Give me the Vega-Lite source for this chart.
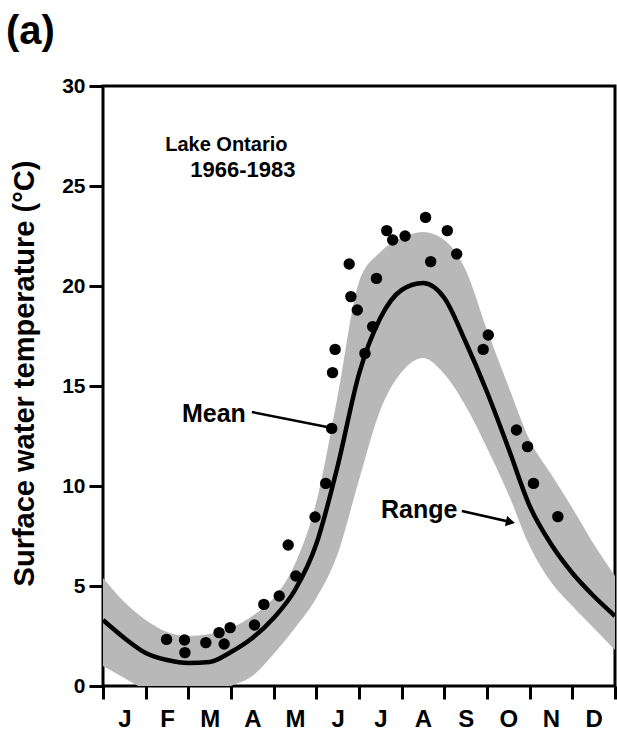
{
  "$schema": "https://vega.github.io/schema/vega-lite/v6.json",
  "width": 512,
  "height": 600,
  "autosize": {"type": "none"},
  "padding": {"left": 103, "top": 86, "right": 2, "bottom": 46},
  "background": "white",
  "title": {"text": "(a)", "anchor": "start", "frame": "group", "fontSize": 40, "fontWeight": "bold", "font": "Liberation Sans", "color": "black", "dx": -97, "offset": 36, "dy": 45, "baseline": "alphabetic"},
  "config": {
    "view": {"stroke": "black", "strokeWidth": 3},
    "font": "Liberation Sans",
    "axis": {"grid": false, "domain": false, "tickColor": "black", "tickWidth": 3, "labelColor": "black", "titleColor": "black", "labelFont": "Liberation Sans", "titleFont": "Liberation Sans", "labelFontWeight": "bold"}
  },
  "datasets": {
    "band": [
      {"m": 0, "lo": 1.0, "mean": 3.3, "hi": 5.4},
      {"m": 0.5, "lo": 0.4, "mean": 2.4, "hi": 4.2},
      {"m": 1, "lo": -0.2, "mean": 1.65, "hi": 3.3},
      {"m": 1.5, "lo": -0.6, "mean": 1.3, "hi": 2.7},
      {"m": 2, "lo": -0.7, "mean": 1.15, "hi": 2.5},
      {"m": 2.5, "lo": -0.5, "mean": 1.2, "hi": 2.6},
      {"m": 3, "lo": 0.0, "mean": 1.7, "hi": 2.9},
      {"m": 3.5, "lo": 0.5, "mean": 2.4, "hi": 3.5},
      {"m": 4, "lo": 1.6, "mean": 3.4, "hi": 4.4},
      {"m": 4.5, "lo": 2.9, "mean": 4.8, "hi": 6.1},
      {"m": 5, "lo": 4.4, "mean": 7.1, "hi": 9.2},
      {"m": 5.5, "lo": 6.6, "mean": 11.0, "hi": 14.5},
      {"m": 6, "lo": 10.3, "mean": 15.6, "hi": 20.2},
      {"m": 6.5, "lo": 13.8, "mean": 18.4, "hi": 21.7},
      {"m": 7, "lo": 15.7, "mean": 19.8, "hi": 22.4},
      {"m": 7.5, "lo": 16.4, "mean": 20.15, "hi": 22.7},
      {"m": 8, "lo": 15.6, "mean": 19.4, "hi": 22.3},
      {"m": 8.5, "lo": 14.0, "mean": 17.2, "hi": 20.8},
      {"m": 9, "lo": 11.9, "mean": 14.7, "hi": 17.8},
      {"m": 9.5, "lo": 9.6, "mean": 11.9, "hi": 15.0},
      {"m": 10, "lo": 7.0, "mean": 9.0, "hi": 12.3},
      {"m": 10.5, "lo": 5.2, "mean": 7.1, "hi": 10.6},
      {"m": 11, "lo": 4.0, "mean": 5.65, "hi": 8.9},
      {"m": 11.5, "lo": 2.9, "mean": 4.5, "hi": 7.1},
      {"m": 12, "lo": 1.8, "mean": 3.5, "hi": 5.5}
    ],
    "obs": [
      {"m": 1.49, "t": 2.33}, {"m": 1.91, "t": 2.3}, {"m": 1.92, "t": 1.67}, {"m": 2.41, "t": 2.17},
      {"m": 2.72, "t": 2.67}, {"m": 2.84, "t": 2.1}, {"m": 2.98, "t": 2.92}, {"m": 3.55, "t": 3.05},
      {"m": 3.77, "t": 4.08}, {"m": 4.13, "t": 4.5}, {"m": 4.34, "t": 7.05}, {"m": 4.52, "t": 5.5},
      {"m": 4.97, "t": 8.45}, {"m": 5.22, "t": 10.13}, {"m": 5.36, "t": 12.88}, {"m": 5.38, "t": 15.67},
      {"m": 5.44, "t": 16.83}, {"m": 5.77, "t": 21.1}, {"m": 5.81, "t": 19.47}, {"m": 5.96, "t": 18.8},
      {"m": 6.14, "t": 16.63}, {"m": 6.32, "t": 17.97}, {"m": 6.41, "t": 20.38}, {"m": 6.65, "t": 22.77},
      {"m": 6.79, "t": 22.3}, {"m": 7.08, "t": 22.5}, {"m": 7.56, "t": 23.43}, {"m": 7.68, "t": 21.22},
      {"m": 8.07, "t": 22.77}, {"m": 8.29, "t": 21.6}, {"m": 8.91, "t": 16.83}, {"m": 9.03, "t": 17.55},
      {"m": 9.69, "t": 12.8}, {"m": 9.95, "t": 11.97}, {"m": 10.09, "t": 10.13}, {"m": 10.66, "t": 8.47}
    ],
    "arrows": [
      {"name": "Mean", "m": 3.49, "t": 13.7, "m2": 5.37, "t2": 12.9},
      {"name": "Range", "m": 8.41, "t": 8.75, "m2": 9.55, "t2": 8.2}
    ],
    "heads": [{"m": 9.55, "t": 8.2}],
    "place": [
      {"label": "Lake Ontario", "m": 2.89, "t": 26.75}
    ],
    "years": [
      {"label": "1966-1983", "m": 3.28, "t": 25.45}
    ],
    "names": [
      {"label": "Mean", "m": 2.6, "t": 13.2},
      {"label": "Range", "m": 7.41, "t": 8.4}
    ]
  },
  "resolve": {"axis": {"x": "independent", "y": "independent"}},
  "layer": [
    {
      "data": {"name": "band"},
      "mark": {"type": "area", "interpolate": "monotone", "clip": true, "color": "#b8b8b8"},
      "encoding": {
        "x": {"field": "m", "type": "quantitative", "scale": {"domain": [0, 12], "nice": false, "zero": false},
          "axis": {"orient": "bottom", "values": [0,1,2,3,4,5,6,7,8,9,10,11,12], "labels": false, "tickSize": 13, "title": null}},
        "y": {"field": "lo", "type": "quantitative", "scale": {"domain": [0, 30], "nice": false},
          "axis": {"orient": "left", "values": [0,5,10,15,20,25,30], "tickSize": 14, "labelPadding": 4, "labelFontSize": 21,
            "title": "Surface water temperature (°C)", "titleFontSize": 29, "titleFontWeight": "bold", "titleAngle": -90,
            "titleX": -70, "titleY": 287, "titleAlign": "center", "titleBaseline": "alphabetic"}},
        "y2": {"field": "hi"}
      }
    },
    {
      "data": {"name": "band"},
      "mark": {"type": "line", "interpolate": "monotone", "clip": true, "color": "black", "strokeWidth": 4.5},
      "encoding": {
        "x": {"field": "m", "type": "quantitative",
          "axis": {"orient": "bottom", "values": [0.5,1.5,2.5,3.5,4.5,5.5,6.5,7.5,8.5,9.5,10.5,11.5], "ticks": false, "tickSize": 0,
            "labelPadding": 21, "labelFontSize": 24, "labelFlush": false, "labelOverlap": false, "title": null,
            "labelExpr": "['J','F','M','A','M','J','J','A','S','O','N','D'][floor(datum.value)]"}},
        "y": {"field": "mean", "type": "quantitative", "axis": null}
      }
    },
    {
      "data": {"name": "obs"},
      "mark": {"type": "circle", "color": "black", "size": 130, "opacity": 1},
      "encoding": {
        "x": {"field": "m", "type": "quantitative", "axis": null},
        "y": {"field": "t", "type": "quantitative", "axis": null}
      }
    },
    {
      "data": {"name": "arrows"},
      "mark": {"type": "rule", "color": "black", "strokeWidth": 2.5},
      "encoding": {
        "x": {"field": "m", "type": "quantitative", "axis": null},
        "y": {"field": "t", "type": "quantitative", "axis": null},
        "x2": {"field": "m2"},
        "y2": {"field": "t2"}
      }
    },
    {
      "data": {"name": "heads"},
      "mark": {"type": "point", "shape": "triangle-right", "angle": 12, "filled": true, "color": "black", "size": 110, "opacity": 1},
      "encoding": {
        "x": {"field": "m", "type": "quantitative", "axis": null},
        "y": {"field": "t", "type": "quantitative", "axis": null}
      }
    },
    {
      "data": {"name": "place"},
      "mark": {"type": "text", "font": "Liberation Sans", "fontWeight": "bold", "fontSize": 20, "align": "center", "baseline": "alphabetic", "color": "black"},
      "encoding": {
        "x": {"field": "m", "type": "quantitative", "axis": null},
        "y": {"field": "t", "type": "quantitative", "axis": null},
        "text": {"field": "label"}
      }
    },
    {
      "data": {"name": "years"},
      "mark": {"type": "text", "font": "Liberation Sans", "fontWeight": "bold", "fontSize": 22, "align": "center", "baseline": "alphabetic", "color": "black"},
      "encoding": {
        "x": {"field": "m", "type": "quantitative", "axis": null},
        "y": {"field": "t", "type": "quantitative", "axis": null},
        "text": {"field": "label"}
      }
    },
    {
      "data": {"name": "names"},
      "mark": {"type": "text", "font": "Liberation Sans", "fontWeight": "bold", "fontSize": 25, "align": "center", "baseline": "alphabetic", "color": "black"},
      "encoding": {
        "x": {"field": "m", "type": "quantitative", "axis": null},
        "y": {"field": "t", "type": "quantitative", "axis": null},
        "text": {"field": "label"}
      }
    }
  ]
}
